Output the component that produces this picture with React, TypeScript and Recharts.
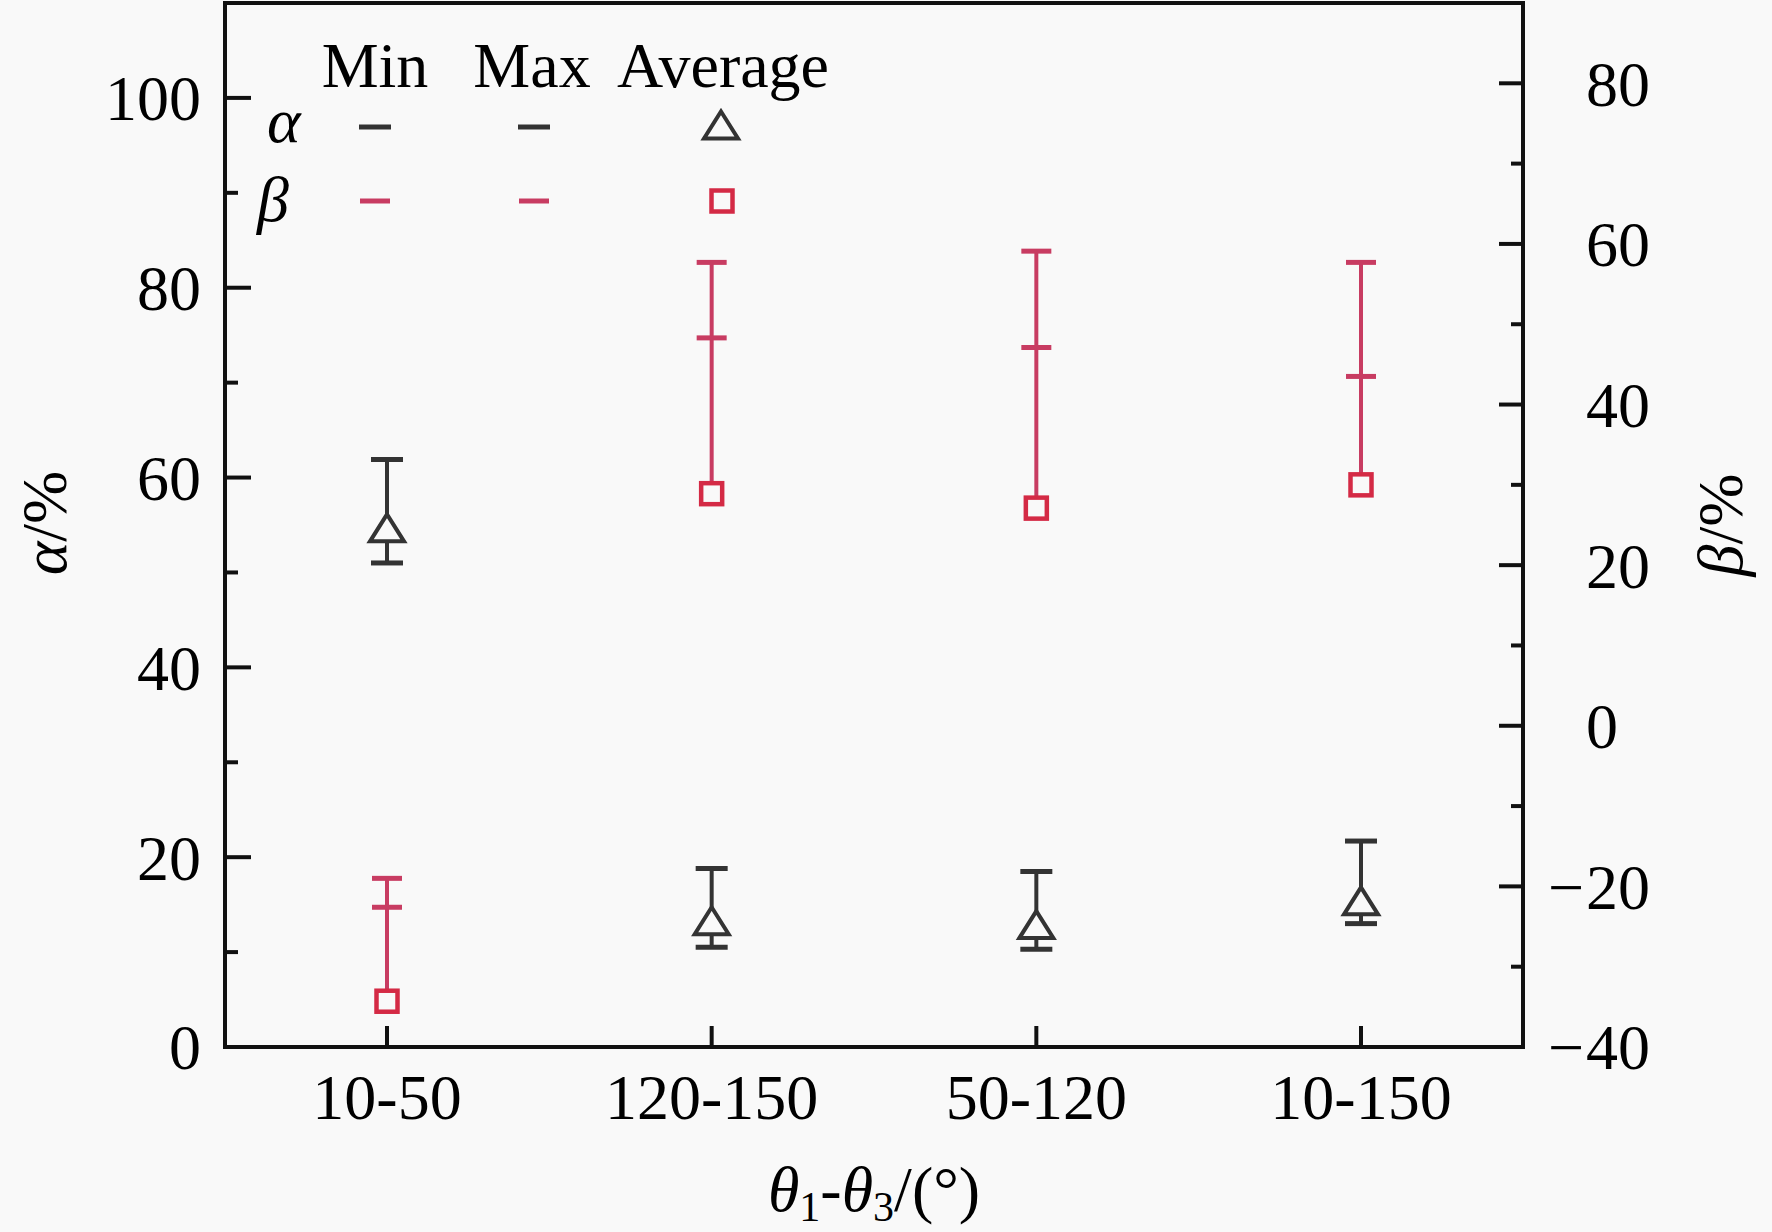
import React from 'react';
import { ComposedChart, Scatter, XAxis, YAxis, ErrorBar, ReferenceLine, Customized } from 'recharts';

// ---------- data ----------
const categories = ['10-50', '120-150', '50-120', '10-150'];
const alphaMin = [51.0, 10.5, 10.3, 13.0];
const alphaMax = [61.9, 18.8, 18.5, 21.7];
const alphaAvg = [54.7, 13.3, 12.9, 15.4];
const betaMin = [-22.6, 48.3, 47.1, 43.5];
const betaMax = [-19.0, 57.7, 59.1, 57.7];
const betaAvg = [-34.3, 28.9, 27.1, 30.0];
const leftTicks = [0, 10, 20, 30, 40, 50, 60, 70, 80, 90, 100];
const rightTicks = [-40, -30, -20, -10, 0, 10, 20, 30, 40, 50, 60, 70, 80];
const legendHeaders = ['Min', 'Max', 'Average'];

const data = categories.map((cat, i) => {
  const aLo = Math.min(alphaMin[i], alphaAvg[i]);
  const aHi = Math.max(alphaMax[i], alphaAvg[i]);
  const bLo = Math.min(betaMin[i], betaAvg[i]);
  const bHi = Math.max(betaMax[i], betaAvg[i]);
  return {
    cat,
    alphaMin: alphaMin[i],
    alphaMax: alphaMax[i],
    alphaAvg: alphaAvg[i],
    alphaErr: [alphaAvg[i] - aLo, aHi - alphaAvg[i]],
    betaMin: betaMin[i],
    betaMax: betaMax[i],
    betaAvg: betaAvg[i],
    betaErr: [betaAvg[i] - bLo, bHi - betaAvg[i]],
  };
});

// ---------- styles ----------
const FONT = "'Liberation Serif', 'Times New Roman', serif";
const FS = 64;
const AXIS = '#111111';
const ALPHA = '#333333';
const BETA = '#C83C62';
const BETA_SQ = '#D42A45';
const BG = '#f9f9f9';

const W = 1772;
const H = 1232;
const LEFT_W = 225;
const RIGHT_W = 249;
const XAXIS_H = 185;
const TOP = 3;
const X_PAD = 162;

const LEFT_MARGIN = 24;
const RIGHT_MARGIN = 63;
const X_MARGIN = 72;

// ---------- marker shapes ----------
const triPath = (cx: number, cy: number) => {
  const w = 34, h = 27;
  return `M${cx},${cy - h / 2} L${cx + w / 2},${cy + h / 2} L${cx - w / 2},${cy + h / 2} Z`;
};
const TriShape = (p: any) => (
  <path d={triPath(p.cx, p.cy)} fill={BG} stroke={ALPHA} strokeWidth={4} strokeLinejoin="miter" />
);
const SquareShape = (p: any) => (
  <rect x={p.cx - 10.5} y={p.cy - 10.5} width={21} height={21} fill={BG} stroke={BETA_SQ} strokeWidth={4.5} />
);
const makeDash = (color: string, w: number) => (p: any) => (
  <line x1={p.cx - w / 2} x2={p.cx + w / 2} y1={p.cy} y2={p.cy} stroke={color} strokeWidth={5} />
);
const AlphaDash = makeDash(ALPHA, 32);
const BetaDash = makeDash(BETA, 30);

// ---------- ticks ----------
const LeftTick = (p: any) => {
  const v = p.payload.value;
  const major = v % 20 === 0;
  const ax = p.x + LEFT_MARGIN;
  return (
    <g>
      {v !== 0 && (
        <line x1={ax} x2={ax + (major ? 26 : 13)} y1={p.y} y2={p.y} stroke={AXIS} strokeWidth={4} />
      )}
      {major && (
        <text x={p.x} y={p.y} dy="0.35em" textAnchor="end" fontFamily={FONT} fontSize={FS} fill="#000">
          {v}
        </text>
      )}
    </g>
  );
};

const RightTick = (p: any) => {
  const v = p.payload.value;
  const major = v % 20 === 0;
  const ax = p.x - RIGHT_MARGIN;
  const neg = v < 0;
  return (
    <g>
      {v !== -40 && (
        <line x1={ax} x2={ax - (major ? 24 : 12)} y1={p.y} y2={p.y} stroke={AXIS} strokeWidth={4} />
      )}
      {major && (
        <g>
          {neg && (
            <text x={p.x - 2} y={p.y} dy="0.35em" textAnchor="end" fontFamily={FONT} fontSize={FS} fill="#000">
              {'\u2212'}
            </text>
          )}
          <text x={p.x} y={p.y} dy="0.35em" textAnchor="start" fontFamily={FONT} fontSize={FS} fill="#000">
            {Math.abs(v)}
          </text>
        </g>
      )}
    </g>
  );
};

const XTick = (p: any) => {
  const ay = p.y - X_MARGIN;
  return (
    <g>
      <line x1={p.x} x2={p.x} y1={ay} y2={ay - 21} stroke={AXIS} strokeWidth={4} />
      <text x={p.x} y={p.y} textAnchor="middle" fontFamily={FONT} fontSize={FS} fill="#000">
        {p.payload.value}
      </text>
    </g>
  );
};

// ---------- legend & titles ----------
const headerX = [375, 532, 723];
const Decorations = () => (
  <g fontFamily={FONT} fill="#000">
    {legendHeaders.map((h, i) => (
      <text key={h} x={headerX[i]} y={87} textAnchor="middle" fontSize={FS}>
        {h}
      </text>
    ))}
    <text x={267} y={142} fontSize={FS} fontStyle="italic">α</text>
    <text x={257} y={221} fontSize={FS} fontStyle="italic">β</text>
    {AlphaDash({ cx: 375, cy: 127 })}
    {AlphaDash({ cx: 534, cy: 127 })}
    {TriShape({ cx: 721, cy: 125 })}
    {BetaDash({ cx: 375, cy: 201 })}
    {BetaDash({ cx: 534, cy: 201 })}
    {SquareShape({ cx: 722, cy: 201 })}

    <text x={66} y={523} transform="rotate(-90, 66, 523)" textAnchor="middle" fontSize={FS}>
      <tspan fontStyle="italic">α</tspan>
      <tspan>/%</tspan>
    </text>
    <text x={1742} y={525} transform="rotate(-90, 1742, 525)" textAnchor="middle" fontSize={FS}>
      <tspan fontStyle="italic">β</tspan>
      <tspan>/%</tspan>
    </text>
    <text x={874} y={1211} textAnchor="middle" fontSize={FS}>
      <tspan fontStyle="italic">θ</tspan>
      <tspan fontSize={42} dy={10}>1</tspan>
      <tspan dy={-10}>-</tspan>
      <tspan fontStyle="italic">θ</tspan>
      <tspan fontSize={42} dy={10}>3</tspan>
      <tspan dy={-10}>/(°)</tspan>
    </text>
  </g>
);

export default function App() {
  return (
    <div style={{ width: W, height: H, background: BG }}>
      <style>{`body{margin:0;background:${BG};overflow:hidden}`}</style>
      <ComposedChart
        width={W}
        height={H}
        data={data}
        margin={{ top: TOP, right: 0, bottom: 0, left: 0 }}
        style={{ background: BG }}
      >
        <XAxis
          dataKey="cat"
          type="category"
          height={XAXIS_H}
          interval={0}
          padding={{ left: X_PAD, right: X_PAD }}
          tickSize={0}
          tickMargin={X_MARGIN}
          tickLine={false}
          axisLine={{ stroke: AXIS, strokeWidth: 4, strokeLinecap: 'square' }}
          tick={XTick}
        />
        <YAxis
          yAxisId="left"
          orientation="left"
          type="number"
          width={LEFT_W}
          domain={[0, 110]}
          ticks={leftTicks}
          interval={0}
          allowDataOverflow
          tickSize={0}
          tickMargin={LEFT_MARGIN}
          tickLine={false}
          axisLine={{ stroke: AXIS, strokeWidth: 4, strokeLinecap: 'square' }}
          tick={LeftTick}
        />
        <YAxis
          yAxisId="right"
          orientation="right"
          type="number"
          width={RIGHT_W}
          domain={[-40, 90]}
          ticks={rightTicks}
          interval={0}
          allowDataOverflow
          tickSize={0}
          tickMargin={RIGHT_MARGIN}
          tickLine={false}
          axisLine={{ stroke: AXIS, strokeWidth: 4, strokeLinecap: 'square' }}
          tick={RightTick}
        />
        <ReferenceLine yAxisId="left" y={110} stroke={AXIS} strokeWidth={4} strokeLinecap="square" />

        <Scatter yAxisId="left" dataKey="alphaMin" shape={AlphaDash} isAnimationActive={false} />
        <Scatter yAxisId="left" dataKey="alphaMax" shape={AlphaDash} isAnimationActive={false} />
        <Scatter yAxisId="right" dataKey="betaMin" shape={BetaDash} isAnimationActive={false} />
        <Scatter yAxisId="right" dataKey="betaMax" shape={BetaDash} isAnimationActive={false} />

        <Scatter yAxisId="left" dataKey="alphaAvg" shape={TriShape} isAnimationActive={false}>
          <ErrorBar dataKey="alphaErr" direction="y" width={0} stroke={ALPHA} strokeWidth={4} isAnimationActive={false} />
        </Scatter>
        <Scatter yAxisId="right" dataKey="betaAvg" shape={SquareShape} isAnimationActive={false}>
          <ErrorBar dataKey="betaErr" direction="y" width={0} stroke={BETA} strokeWidth={4} isAnimationActive={false} />
        </Scatter>

        <Customized component={Decorations} />
      </ComposedChart>
    </div>
  );
}
